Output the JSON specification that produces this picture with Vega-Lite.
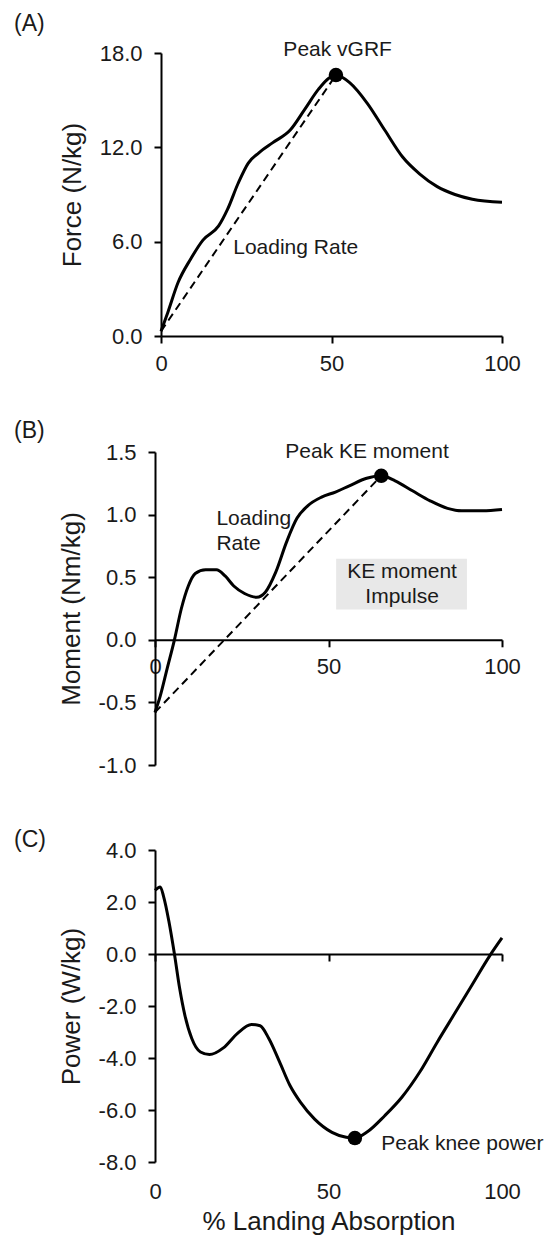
{
  "$schema": "https://vega.github.io/schema/vega-lite/v6.json",
  "background": "white",
  "padding": {"left": 14, "top": 12, "right": 2, "bottom": 2},
  "autosize": {"type": "pad"},
  "config": {
    "view": {"stroke": null},
    "font": "Liberation Sans",
    "axis": {
      "grid": false,
      "domainColor": "#000000",
      "domainWidth": 2,
      "tickColor": "#000000",
      "tickWidth": 2,
      "tickSize": 7,
      "labelFont": "Liberation Sans",
      "labelFontSize": 22,
      "labelColor": "#1a1a1a",
      "labelPadding": 10,
      "labelOverlap": false,
      "labelFlush": false,
      "titleFont": "Liberation Sans",
      "titleFontSize": 26,
      "titleFontWeight": "normal",
      "titleColor": "#1a1a1a",
      "titlePadding": 14
    },
    "title": {"font": "Liberation Sans", "fontSize": 23, "fontWeight": "normal", "color": "#1a1a1a", "anchor": "start", "frame": "group"},
    "text": {"font": "Liberation Sans", "fontSize": 21, "color": "#1a1a1a"}
  },
  "datasets": {
    "force": [
      {"pct": 0, "value": 0.3}, {"pct": 2, "value": 1.5}, {"pct": 5, "value": 3.4}, {"pct": 8.7, "value": 4.9},
      {"pct": 12.3, "value": 6.1}, {"pct": 16.9, "value": 7.0}, {"pct": 19.5, "value": 8.05}, {"pct": 22.6, "value": 9.7},
      {"pct": 25.6, "value": 11.0}, {"pct": 28.7, "value": 11.65}, {"pct": 32.8, "value": 12.3}, {"pct": 37.9, "value": 13.1},
      {"pct": 42.1, "value": 14.4}, {"pct": 46.2, "value": 15.7}, {"pct": 49.2, "value": 16.4}, {"pct": 51.3, "value": 16.6},
      {"pct": 55.4, "value": 16.1}, {"pct": 60.5, "value": 14.8}, {"pct": 65.6, "value": 13.1}, {"pct": 70.8, "value": 11.4},
      {"pct": 75.9, "value": 10.3}, {"pct": 81, "value": 9.5}, {"pct": 86.2, "value": 9.0}, {"pct": 91.3, "value": 8.7},
      {"pct": 100, "value": 8.5}
    ],
    "forceRate": [{"pct": 0, "value": 0.3}, {"pct": 51.3, "value": 16.6}],
    "forcePeak": [{"pct": 51.3, "value": 16.6}],
    "forceNotes": [
      {"pct": 51.8, "value": 18.2, "note": "Peak vGRF"},
      {"pct": 39.5, "value": 5.6, "note": "Loading Rate"}
    ],
    "moment": [
      {"pct": 0, "value": -0.58}, {"pct": 1.5, "value": -0.45}, {"pct": 3.5, "value": -0.23}, {"pct": 5.6, "value": 0},
      {"pct": 7.6, "value": 0.25}, {"pct": 9.6, "value": 0.43}, {"pct": 11.6, "value": 0.53}, {"pct": 14.6, "value": 0.56},
      {"pct": 17.7, "value": 0.56}, {"pct": 20.2, "value": 0.51}, {"pct": 22.7, "value": 0.43}, {"pct": 25.8, "value": 0.37},
      {"pct": 29.3, "value": 0.34}, {"pct": 31.8, "value": 0.38}, {"pct": 34.8, "value": 0.54}, {"pct": 37.9, "value": 0.78},
      {"pct": 40.9, "value": 0.97}, {"pct": 44, "value": 1.07}, {"pct": 48, "value": 1.14}, {"pct": 52, "value": 1.18},
      {"pct": 56, "value": 1.23}, {"pct": 61, "value": 1.29}, {"pct": 65.2, "value": 1.31}, {"pct": 69.2, "value": 1.27},
      {"pct": 74.2, "value": 1.19}, {"pct": 79.3, "value": 1.11}, {"pct": 84.3, "value": 1.05}, {"pct": 88.4, "value": 1.03},
      {"pct": 94.4, "value": 1.03}, {"pct": 100, "value": 1.04}
    ],
    "momentRate": [{"pct": 0, "value": -0.58}, {"pct": 65.2, "value": 1.31}],
    "momentPeak": [{"pct": 65.2, "value": 1.31}],
    "momentNotes": [
      {"pct": 61.1, "value": 1.5, "note": "Peak KE moment"},
      {"pct": 71.2, "value": 0.54, "note": "KE moment"},
      {"pct": 71.2, "value": 0.34, "note": "Impulse"}
    ],
    "momentRateNote": [
      {"pct": 17.7, "value": 0.967, "note": "Loading"},
      {"pct": 17.7, "value": 0.767, "note": "Rate"}
    ],
    "impulseBox": [{"x1": 52.2, "x2": 89.9, "y1": 0.242, "y2": 0.647}],
    "power": [
      {"pct": 0, "value": 2.45}, {"pct": 1.5, "value": 2.58}, {"pct": 2.5, "value": 2.2}, {"pct": 4, "value": 1.26},
      {"pct": 5.6, "value": 0}, {"pct": 7.1, "value": -1.32}, {"pct": 8.6, "value": -2.35}, {"pct": 10.6, "value": -3.25},
      {"pct": 13.1, "value": -3.77}, {"pct": 15.7, "value": -3.87}, {"pct": 19.7, "value": -3.61}, {"pct": 23.7, "value": -3.06},
      {"pct": 27.8, "value": -2.71}, {"pct": 30.3, "value": -2.76}, {"pct": 32.8, "value": -3.25}, {"pct": 35.9, "value": -4.15},
      {"pct": 38.9, "value": -5.06}, {"pct": 41.9, "value": -5.7}, {"pct": 46, "value": -6.35}, {"pct": 51, "value": -6.86},
      {"pct": 55.1, "value": -7.05}, {"pct": 57.6, "value": -7.08}, {"pct": 61.1, "value": -6.85}, {"pct": 66.2, "value": -6.22},
      {"pct": 71.2, "value": -5.5}, {"pct": 76.3, "value": -4.54}, {"pct": 81.3, "value": -3.4}, {"pct": 86.4, "value": -2.28},
      {"pct": 91.4, "value": -1.18}, {"pct": 96.5, "value": -0.06}, {"pct": 100, "value": 0.62}
    ],
    "powerPeak": [{"pct": 57.6, "value": -7.08}],
    "powerNotes": [{"pct": 65.2, "value": -7.32, "note": "Peak knee power"}]
  },
  "spacing": 116,
  "bounds": "flush",
  "vconcat": [
    {
      "width": 347,
      "height": 283,
      "title": {"text": "(A)", "dx": -141, "offset": 3},
      "layer": [
        {
          "data": {"name": "force"},
          "mark": {"type": "line", "color": "#000000", "strokeWidth": 3, "interpolate": "monotone"},
          "encoding": {
            "x": {"field": "pct", "type": "quantitative", "scale": {"domain": [0, 100], "nice": false, "range": [6, 347]},
                  "axis": {"values": [0, 50, 100], "title": null}},
            "y": {"field": "value", "type": "quantitative", "scale": {"domain": [0, 18], "nice": false, "zero": false},
                  "axis": {"values": [0, 6, 12, 18], "format": ".1f", "title": "Force (N/kg)", "offset": -6, "labelPadding": 12}}
          }
        },
        {
          "data": {"name": "forceRate"},
          "mark": {"type": "line", "color": "#000000", "strokeWidth": 2, "strokeDash": [8, 5]},
          "encoding": {"x": {"field": "pct", "type": "quantitative"}, "y": {"field": "value", "type": "quantitative"}}
        },
        {
          "data": {"name": "forcePeak"},
          "mark": {"type": "point", "filled": true, "shape": "circle", "size": 210, "color": "#000000", "opacity": 1},
          "encoding": {"x": {"field": "pct", "type": "quantitative"}, "y": {"field": "value", "type": "quantitative"}}
        },
        {
          "data": {"name": "forceNotes"},
          "mark": {"type": "text", "align": "center", "baseline": "middle"},
          "encoding": {"x": {"field": "pct", "type": "quantitative"}, "y": {"field": "value", "type": "quantitative"}, "text": {"field": "note"}}
        }
      ]
    },
    {
      "spacing": 85,
      "bounds": "flush",
      "vconcat": [
        {
          "width": 347,
          "height": 313,
          "title": {"text": "(B)", "dx": -141, "offset": -2},
          "layer": [
            {
              "data": {"name": "impulseBox"},
              "mark": {"type": "rect", "color": "#e8e8e8"},
              "encoding": {
                "x": {"field": "x1", "type": "quantitative"}, "x2": {"field": "x2"},
                "y": {"field": "y1", "type": "quantitative"}, "y2": {"field": "y2"}
              }
            },
            {
              "data": {"name": "moment"},
              "mark": {"type": "line", "color": "#000000", "strokeWidth": 3, "interpolate": "monotone"},
              "encoding": {
                "x": {"field": "pct", "type": "quantitative", "scale": {"domain": [0, 100], "nice": false},
                      "axis": {"values": [0, 50, 100], "title": null, "offset": -125.2}},
                "y": {"field": "value", "type": "quantitative", "scale": {"domain": [-1, 1.5], "nice": false, "zero": false},
                      "axis": {"values": [-1, -0.5, 0, 0.5, 1, 1.5], "title": "Moment (Nm/kg)", "labelPadding": 12,
                               "labelExpr": "(datum.value < 0 ? '-' : '') + format(abs(datum.value), '.1f')"}}
              }
            },
            {
              "data": {"name": "momentRate"},
              "mark": {"type": "line", "color": "#000000", "strokeWidth": 2, "strokeDash": [8, 5]},
              "encoding": {"x": {"field": "pct", "type": "quantitative"}, "y": {"field": "value", "type": "quantitative"}}
            },
            {
              "data": {"name": "momentPeak"},
              "mark": {"type": "point", "filled": true, "shape": "circle", "size": 210, "color": "#000000", "opacity": 1},
              "encoding": {"x": {"field": "pct", "type": "quantitative"}, "y": {"field": "value", "type": "quantitative"}}
            },
            {
              "data": {"name": "momentNotes"},
              "mark": {"type": "text", "align": "center", "baseline": "middle"},
              "encoding": {"x": {"field": "pct", "type": "quantitative"}, "y": {"field": "value", "type": "quantitative"}, "text": {"field": "note"}}
            },
            {
              "data": {"name": "momentRateNote"},
              "mark": {"type": "text", "align": "left", "baseline": "middle"},
              "encoding": {"x": {"field": "pct", "type": "quantitative"}, "y": {"field": "value", "type": "quantitative"}, "text": {"field": "note"}}
            }
          ]
        },
        {
          "width": 347,
          "height": 312,
          "title": {"text": "(C)", "dx": -141, "offset": -13},
          "resolve": {"axis": {"x": "independent"}},
          "layer": [
            {
              "data": {"name": "power"},
              "mark": {"type": "line", "color": "#000000", "strokeWidth": 3, "interpolate": "monotone"},
              "encoding": {
                "x": {"field": "pct", "type": "quantitative", "scale": {"domain": [0, 100], "nice": false},
                      "axis": {"orient": "bottom", "values": [0, 50, 100], "labels": false, "title": null, "offset": -208}},
                "y": {"field": "value", "type": "quantitative", "scale": {"domain": [-8, 4], "nice": false, "zero": false},
                      "axis": {"values": [-8, -6, -4, -2, 0, 2, 4], "title": "Power (W/kg)", "labelPadding": 12,
                               "labelExpr": "(datum.value < 0 ? '-' : '') + format(abs(datum.value), '.1f')"}}
              }
            },
            {
              "data": {"name": "powerPeak"},
              "mark": {"type": "point", "filled": true, "shape": "circle", "size": 210, "color": "#000000", "opacity": 1},
              "encoding": {
                "x": {"field": "pct", "type": "quantitative",
                      "axis": {"orient": "bottom", "values": [0, 50, 100], "domain": false, "ticks": false, "tickSize": 0,
                               "labelPadding": 19, "title": "% Landing Absorption", "titlePadding": 6}},
                "y": {"field": "value", "type": "quantitative"}
              }
            },
            {
              "data": {"name": "powerNotes"},
              "mark": {"type": "text", "align": "left", "baseline": "middle"},
              "encoding": {
                "x": {"field": "pct", "type": "quantitative", "axis": null},
                "y": {"field": "value", "type": "quantitative"},
                "text": {"field": "note"}
              }
            }
          ]
        }
      ]
    }
  ]
}
